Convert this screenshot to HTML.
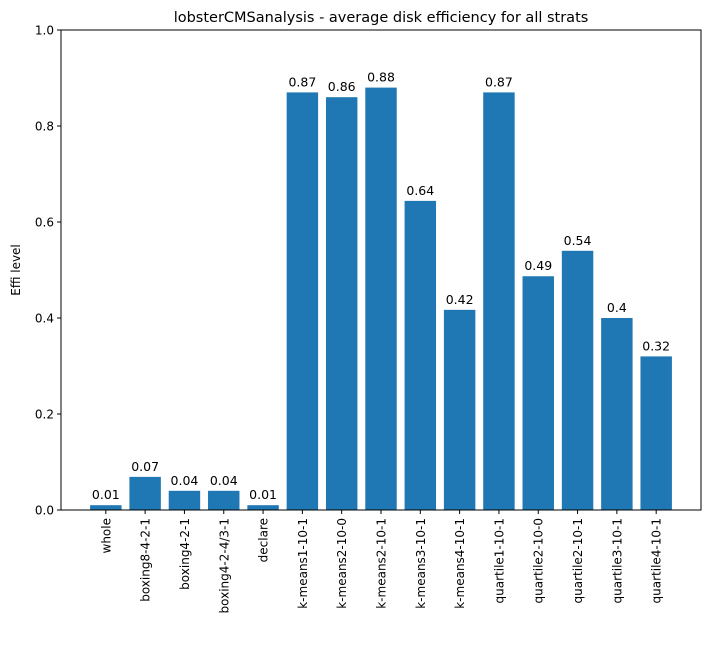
<!DOCTYPE html>
<html><head><meta charset="utf-8">
<style>
body{margin:0;background:#fff;font-family:"Liberation Sans","DejaVu Sans",sans-serif;}
svg text{font-family:"DejaVu Sans","Liberation Sans",sans-serif;}
</style></head>
<body>
<svg id="chart" width="711" height="640" xmlns="http://www.w3.org/2000/svg">
<rect width="711" height="640" fill="#fff"/>
<text x="381" y="22" text-anchor="middle" font-size="14.5">lobsterCMSanalysis - average disk efficiency for all strats</text>
<g id="bars"></g>
<g id="yaxis"></g>
<g id="xaxis"></g>
<rect x="61" y="30" width="640" height="480" fill="none" stroke="#000" stroke-width="1"/>
<text transform="translate(20,270) rotate(-90)" text-anchor="middle" font-size="12">Effi level</text>
</svg>
<script>
const categories=["whole","boxing8-4-2-1","boxing4-2-1","boxing4-2-4/3-1","declare","k-means1-10-1","k-means2-10-0","k-means2-10-1","k-means3-10-1","k-means4-10-1","quartile1-10-1","quartile2-10-0","quartile2-10-1","quartile3-10-1","quartile4-10-1"];
const values=[0.01,0.069,0.04,0.04,0.01,0.87,0.86,0.88,0.644,0.417,0.87,0.487,0.54,0.4,0.32];
const valueLabels=["0.01","0.07","0.04","0.04","0.01","0.87","0.86","0.88","0.64","0.42","0.87","0.49","0.54","0.4","0.32"];
const yTicks=[0,0.2,0.4,0.6,0.8,1.0];
const yTickLabels=["0.0","0.2","0.4","0.6","0.8","1.0"];

const NS="http://www.w3.org/2000/svg";
const L=61,R=701,T=30,B=510;
const xmin=-0.4-0.74,xmax=categories.length-1+0.4+0.74;
function xs(i){return L+(i-xmin)/(xmax-xmin)*(R-L);}
function ys(v){return B-v*(B-T);}
const unit=(R-L)/(xmax-xmin);
function mk(tag,attrs,parent){const e=document.createElementNS(NS,tag);for(const k in attrs)e.setAttribute(k,attrs[k]);parent.appendChild(e);return e;}
const gb=document.getElementById('bars'),gy=document.getElementById('yaxis'),gx=document.getElementById('xaxis');
values.forEach((v,i)=>{
  const w=0.8*unit,cx=xs(i);
  const r=mk('rect',{x:cx-w/2,y:ys(v),width:w,height:B-ys(v),fill:'#1f77b4'},gb);
  
  
  const t=mk('text',{x:cx,y:ys(v)-6,'text-anchor':'middle','font-size':'12.5'},gb);
  t.textContent=valueLabels[i];
  
  
  mk('line',{x1:cx,x2:cx,y1:B,y2:B+4,stroke:'#000'},gx);
  const xl=mk('text',{transform:`translate(${cx+4.5},${B+8}) rotate(-90)`,'text-anchor':'end','font-size':'12'},gx);
  xl.textContent=categories[i];
  
  
});
yTicks.forEach((v,i)=>{
  const y=ys(v);
  mk('line',{x1:L-4,x2:L,y1:y,y2:y,stroke:'#000'},gy);
  const t=mk('text',{x:L-7,y:y+4.5,'text-anchor':'end','font-size':'12'},gy);
  t.textContent=yTickLabels[i];
  
  
});
</script>
</body></html>
